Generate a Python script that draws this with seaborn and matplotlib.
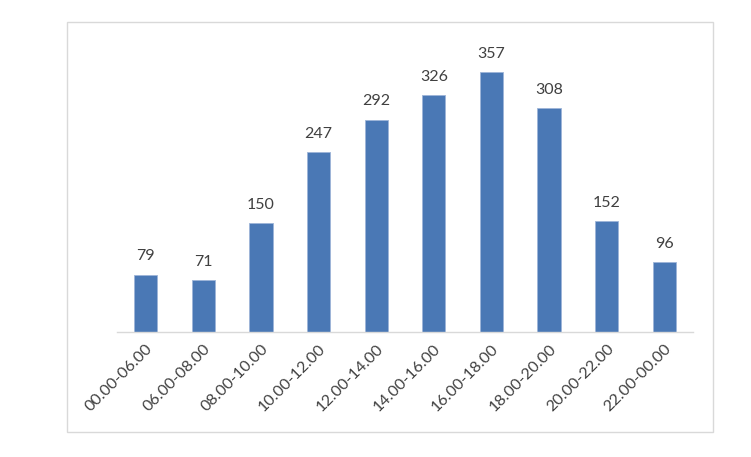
import matplotlib
matplotlib.use("Agg")
import matplotlib.pyplot as plt
import seaborn as sns
import pandas as pd
from matplotlib.patches import Rectangle

categories = ["00.00-06.00", "06.00-08.00", "08.00-10.00", "10.00-12.00", "12.00-14.00",
              "14.00-16.00", "16.00-18.00", "18.00-20.00", "20.00-22.00", "22.00-00.00"]
values = [79, 71, 150, 247, 292, 326, 357, 308, 152, 96]

sns.set_theme(style="white")
plt.rcParams['font.family'] = ['Lato', 'DejaVu Sans']

df = pd.DataFrame({"slot": categories, "count": values})

fig = plt.figure(figsize=(7.51, 4.57), dpi=100)
W, H = 751, 457
fig.patches.append(Rectangle((67 / W, 1 - 432 / H), (713 - 67) / W, (432 - 22) / H,
                             transform=fig.transFigure, fill=False,
                             edgecolor="#d9d9d9", linewidth=1.0))
ax = fig.add_axes([117 / W, 1 - 332 / H, 576 / W, 291 / H])

sns.barplot(data=df, x="slot", y="count", color="#4a78b5", saturation=1,
            width=0.4, edgecolor="#9db5d8", linewidth=0.6, ax=ax)
ax.set_ylim(0, 400)
ax.set_xlim(-0.5, len(categories) - 0.5)
ax.set_xlabel("")
ax.set_ylabel("")
ax.set_yticks([])
for s in ["top", "left", "right"]:
    ax.spines[s].set_visible(False)
ax.spines["bottom"].set_color("#d9d9d9")
ax.spines["bottom"].set_linewidth(1.0)
ax.tick_params(axis="x", length=0, pad=7, colors="#404040", labelsize=11.5)
plt.setp(ax.get_xticklabels(), rotation=45, ha="right", rotation_mode="anchor")

for c in ax.containers:
    ax.bar_label(c, labels=[str(v) for v in values], padding=8, fontsize=11.5, color="#404040")

fig.savefig("out.png", dpi=100)
